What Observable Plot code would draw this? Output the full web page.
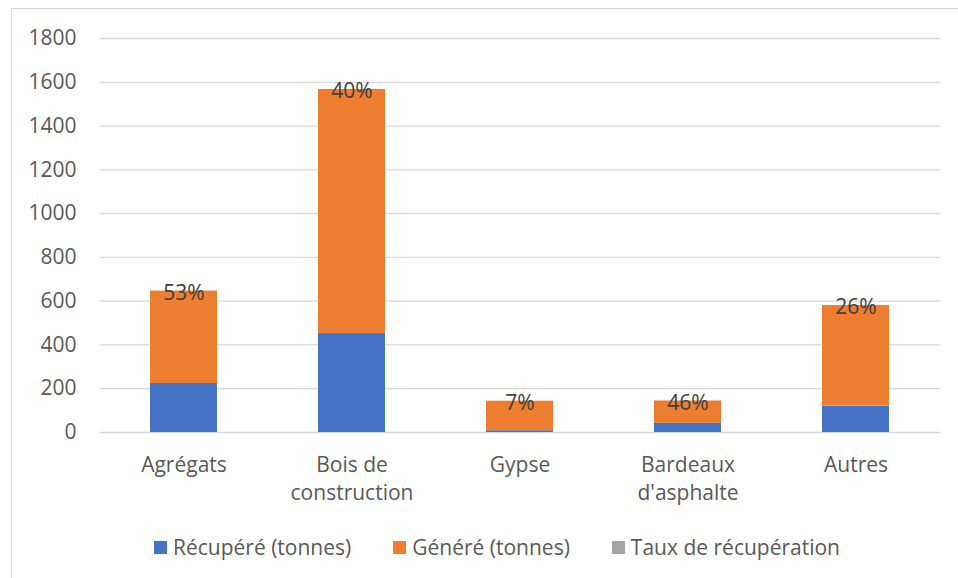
<!DOCTYPE html>
<html>
<head>
<meta charset="utf-8">
<script src="https://cdn.jsdelivr.net/npm/d3@7"></script>
<script src="https://cdn.jsdelivr.net/npm/@observablehq/plot@0.6"></script>
<style>
  html, body { margin: 0; padding: 0; background: #fff; }
  #wrap { position: relative; width: 958px; height: 578px; overflow: hidden; font-family: "Open Sans", sans-serif; }
  #frame { position: absolute; left: 11px; top: 8px; width: 1000px; height: 700px; border-left: 1px solid #D9D9D9; border-top: 1px solid #D9D9D9; pointer-events: none; }
  #chart { position: absolute; left: 0; top: 0; }
  #legend { position: absolute; left: 0; width: 994px; top: 533px; display: flex; justify-content: center; gap: 42px; font-size: 21px; color: #595959; }
  .item { display: flex; align-items: center; gap: 6px; }
  .sw { width: 13px; height: 13px; display: inline-block; }
</style>
</head>
<body>
<div id="wrap">
  <div id="chart"></div>
  <div id="frame"></div>
  <div id="legend"></div>
</div>
<script>
const categories = ["Agrégats", "Bois de\nconstruction", "Gypse", "Bardeaux\nd'asphalte", "Autres"];
const recupere = [224, 452, 8, 42, 121];
const genere = [422, 1115, 135, 102, 459];
const tauxLabels = ["53%", "40%", "7%", "46%", "26%"];
const seriesNames = ["Récupéré (tonnes)", "Généré (tonnes)", "Taux de récupération"];
const colors = ["#4472C4", "#ED7D31", "#A5A5A5"];
const yTicks = [0, 200, 400, 600, 800, 1000, 1200, 1400, 1600, 1800];

const rows = [];
categories.forEach((c, i) => {
  rows.push({cat: c, series: seriesNames[0], value: recupere[i]});
  rows.push({cat: c, series: seriesNames[1], value: genere[i]});
});
const totals = categories.map((c, i) => ({cat: c, total: recupere[i] + genere[i], label: tauxLabels[i]}));

const plot = Plot.plot({
  width: 958,
  height: 510,
  marginLeft: 100,
  marginRight: 18,
  marginTop: 38,
  marginBottom: 78,
  style: { fontFamily: "Open Sans, sans-serif", fontSize: "21px", color: "#595959", background: "transparent" },
  x: { domain: categories, paddingInner: 0.6, paddingOuter: 0.3, label: null },
  y: { domain: [0, 1800], label: null },
  color: { domain: seriesNames, range: colors },
  marks: [
    Plot.gridY(yTicks, { stroke: "#D9D9D9", strokeOpacity: 1, strokeWidth: 1.3 }),
    Plot.barY(rows, { x: "cat", y: "value", fill: "series", order: seriesNames }),
    Plot.text(totals, { x: "cat", y: "total", text: "label", fill: "#404040", fontSize: 21, dy: 2 }),
    Plot.axisY(yTicks, { tickSize: 0, tickPadding: 24, fill: "#595959", fontSize: 21, tickFormat: d => String(d) }),
    Plot.axisX({ tickSize: 0, tickPadding: 20, fill: "#595959", fontSize: 21, lineHeight: 1.33 })
  ]
});
document.getElementById("chart").appendChild(plot);

const legend = document.getElementById("legend");
seriesNames.forEach((s, i) => {
  const item = document.createElement("div");
  item.className = "item";
  const sw = document.createElement("span");
  sw.className = "sw";
  sw.style.background = colors[i];
  const t = document.createElement("span");
  t.textContent = s;
  item.appendChild(sw);
  item.appendChild(t);
  legend.appendChild(item);
});
</script>
</body>
</html>
